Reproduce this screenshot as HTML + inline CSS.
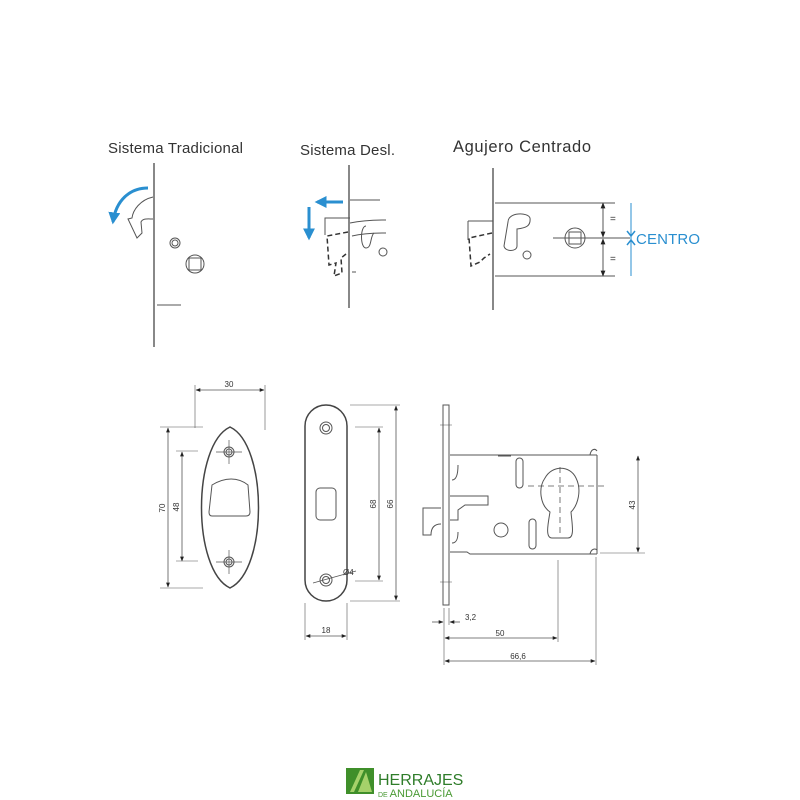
<!DOCTYPE html>
<html><head><meta charset="utf-8"><style>
html,body{margin:0;padding:0;background:#fff;width:800px;height:800px;overflow:hidden}
svg{display:block}
text{font-family:"Liberation Sans",sans-serif}
</style></head><body>
<svg width="800" height="800" viewBox="0 0 800 800" xmlns="http://www.w3.org/2000/svg">
<defs>
<marker id="ab" viewBox="0 0 10 10" refX="9" refY="5" markerWidth="6" markerHeight="6" orient="auto-start-reverse"><path d="M0,1L10,5L0,9z" fill="#222"/></marker>
<marker id="bl" viewBox="0 0 10 10" refX="8" refY="5" markerWidth="4" markerHeight="4" orient="auto"><path d="M0,0L10,5L0,10z" fill="#2a8fd0"/></marker>
</defs>
<g fill="none" stroke="#555" stroke-width="1">
<!-- Panel 1 -->
<line x1="154" y1="163" x2="154" y2="347" stroke-width="2" stroke="#888"/>
<line x1="157" y1="305" x2="181" y2="305"/>
<path d="M153,197 C140,200 133,210 132,218 L128,219 L137,238 L142,233 L141,222 C143,218 148,219 153,219"/>
<circle cx="175" cy="243" r="5"/><circle cx="175" cy="243" r="3"/>
<circle cx="195" cy="264" r="9"/><rect x="189" y="258" width="12" height="12"/>
<path d="M148,188 C130,188 116,200 113,222" stroke="#2a8fd0" stroke-width="3" marker-end="url(#bl)"/>
<!-- Panel 2 -->
<line x1="349" y1="165" x2="349" y2="308" stroke-width="2" stroke="#888"/>
<line x1="350" y1="200" x2="380" y2="200"/>
<line x1="352" y1="272" x2="356" y2="272"/>
<path d="M350,218 L325,218 L325,235"/>
<path d="M350,223 C365,220 380,220 386,220"/>
<path d="M352,236 C365,233 380,233 386,233"/>
<path d="M366,226 C360,226 360,248 366,248 C372,248 370,236 374,233"/>
<circle cx="383" cy="252" r="4"/>
<path d="M348,232 L327,236 L329,265 L336,263 L334,276 L342,273 L341,258 L346,254" stroke-dasharray="5,3" stroke="#333" stroke-width="1.5"/>
<line x1="343" y1="202" x2="317" y2="202" stroke="#2a8fd0" stroke-width="3" marker-end="url(#bl)"/>
<line x1="309" y1="207" x2="309" y2="238" stroke="#2a8fd0" stroke-width="3" marker-end="url(#bl)"/>
<!-- Panel 3 -->
<line x1="493" y1="168" x2="493" y2="310" stroke-width="2" stroke="#888"/>
<path d="M495,203 L615,203 M495,276 L615,276"/>
<line x1="468" y1="221" x2="493" y2="221"/>
<line x1="468" y1="221" x2="468" y2="240"/>
<path d="M492,233 L469,238 L471,266 L480,262 L484,258 L490,254" stroke-dasharray="5,3" stroke="#333" stroke-width="1.5"/>
<path d="M508,222 C508,212 528,212 530,218 C531,226 526,228 517,229 L517,246 C517,252 505,252 504,246 Z"/>
<circle cx="527" cy="255" r="4"/>
<circle cx="575" cy="238" r="10"/><rect x="569" y="232" width="12" height="12"/>
<line x1="553" y1="238" x2="630" y2="238"/>
<line x1="603" y1="203" x2="603" y2="237" marker-start="url(#ab)" marker-end="url(#ab)"/>
<line x1="603" y1="239" x2="603" y2="276" marker-start="url(#ab)" marker-end="url(#ab)"/>
<line x1="631" y1="203" x2="631" y2="276" stroke="#2a8fd0"/>
<path d="M627,231 L631,236 L635,231 M627,245 L631,240 L635,245" stroke="#2a8fd0" stroke-width="1.5"/>
<text x="610" y="222" font-size="10" fill="#333" stroke="none">=</text>
<text x="610" y="262" font-size="10" fill="#333" stroke="none">=</text>
<!-- Escutcheon -->
<path d="M230,427 C192,445 192,570 230,588 C268,570 268,445 230,427 Z" stroke="#444" stroke-width="1.5"/>
<circle cx="229" cy="452" r="5"/><circle cx="229" cy="452" r="3"/>
<circle cx="229" cy="562" r="5"/><circle cx="229" cy="562" r="3"/>
<path d="M216,452 H242 M229,440 V464 M216,562 H242 M229,550 V574" stroke-width="0.7"/>
<path d="M212,485 C225,477 238,477 248,485 L250,512 C250,515 248,516 246,516 L212,516 C210,516 209,515 209,512 Z"/>
<line x1="195" y1="428" x2="195" y2="385" stroke-width="0.6"/><line x1="265" y1="430" x2="265" y2="385" stroke-width="0.6"/>
<line x1="196" y1="390" x2="264" y2="390" stroke-width="0.8" marker-start="url(#ab)" marker-end="url(#ab)"/>
<line x1="168" y1="428" x2="168" y2="587" stroke-width="0.8" marker-start="url(#ab)" marker-end="url(#ab)"/>
<line x1="160" y1="427" x2="203" y2="427" stroke-width="0.6"/><line x1="160" y1="588" x2="203" y2="588" stroke-width="0.6"/>
<line x1="182" y1="452" x2="182" y2="561" stroke-width="0.8" marker-start="url(#ab)" marker-end="url(#ab)"/>
<line x1="176" y1="451" x2="198" y2="451" stroke-width="0.6"/><line x1="176" y1="561" x2="198" y2="561" stroke-width="0.6"/>
<!-- Faceplate -->
<rect x="305" y="405" width="42" height="196" rx="21" stroke="#444" stroke-width="1.5"/>
<circle cx="326" cy="428" r="6"/><circle cx="326" cy="428" r="3.5"/>
<circle cx="326" cy="580" r="6"/><circle cx="326" cy="580" r="3.5"/>
<rect x="316" y="488" width="20" height="32" rx="4"/>
<line x1="313" y1="583" x2="356" y2="571" stroke-width="0.8"/>
<line x1="350" y1="405" x2="400" y2="405" stroke-width="0.6"/><line x1="350" y1="601" x2="400" y2="601" stroke-width="0.6"/>
<line x1="396" y1="406" x2="396" y2="600" stroke-width="0.8" marker-start="url(#ab)" marker-end="url(#ab)"/>
<line x1="355" y1="427" x2="383" y2="427" stroke-width="0.6"/><line x1="355" y1="581" x2="383" y2="581" stroke-width="0.6"/>
<line x1="379" y1="428" x2="379" y2="580" stroke-width="0.8" marker-start="url(#ab)" marker-end="url(#ab)"/>
<line x1="305" y1="603" x2="305" y2="640" stroke-width="0.6"/><line x1="347" y1="603" x2="347" y2="640" stroke-width="0.6"/>
<line x1="306" y1="636" x2="346" y2="636" stroke-width="0.8" marker-start="url(#ab)" marker-end="url(#ab)"/>
<!-- Lock body -->
<rect x="443" y="405" width="6" height="200"/>
<path d="M440,425 L452,425 M440,582 L452,582" stroke-width="0.6"/>
<path d="M450,455 L597,455 M597,455 L597,554 M597,554 L470,554 L467,552 L450,552"/>
<path d="M590,455 C591,449 595,448 597,451 M590,554 C591,549 595,548 597,550"/>
<path d="M498,456 L511,456"/>
<rect x="516" y="458" width="7" height="30" rx="3.5"/>
<rect x="529" y="519" width="7" height="30" rx="3.5"/>
<circle cx="501" cy="530" r="7"/>
<path d="M552,538 C545,538 548,524 550,512 C540,505 538,488 545,478 C552,465 570,465 576,478 C582,490 578,505 571,512 C572,524 575,538 568,538 Z"/>
<line x1="528" y1="486" x2="605" y2="486" stroke-dasharray="6,4" stroke-width="0.8"/>
<line x1="560" y1="467" x2="560" y2="535" stroke-dasharray="6,4" stroke-width="0.8"/>
<path d="M450,496 L488,496 L488,505 L465,505 L458,510 L458,520 L450,520"/>
<path d="M441,508 L423,508 L423,535 L431,535 C431,527 435,524 441,524"/>
<path d="M452,480 C456,480 458,475 458,465 M452,543 C456,543 458,540 458,532"/>
<line x1="600" y1="553" x2="645" y2="553" stroke-width="0.6"/>
<line x1="638" y1="456" x2="638" y2="552" stroke-width="0.8" marker-start="url(#ab)" marker-end="url(#ab)"/>
<line x1="444" y1="608" x2="444" y2="665" stroke-width="0.6"/><line x1="449" y1="608" x2="449" y2="625" stroke-width="0.6"/>
<line x1="558" y1="560" x2="558" y2="642" stroke-width="0.6"/><line x1="596" y1="557" x2="596" y2="665" stroke-width="0.6"/>
<line x1="432" y1="622" x2="443" y2="622" stroke-width="0.8" marker-end="url(#ab)"/>
<line x1="460" y1="622" x2="450" y2="622" stroke-width="0.8" marker-end="url(#ab)"/>
<line x1="445" y1="638" x2="557" y2="638" stroke-width="0.8" marker-start="url(#ab)" marker-end="url(#ab)"/>
<line x1="445" y1="661" x2="595" y2="661" stroke-width="0.8" marker-start="url(#ab)" marker-end="url(#ab)"/>
</g>
<g fill="#333">
<text x="108" y="153" font-size="15" textLength="135">Sistema Tradicional</text>
<text x="300" y="155" font-size="15" textLength="95">Sistema Desl.</text>
<text x="453" y="152" font-size="16.5" textLength="138">Agujero Centrado</text>
<text x="636" y="244" font-size="15" fill="#2a8fd0" textLength="64">CENTRO</text>
<text x="229" y="387" font-size="8" text-anchor="middle">30</text>
<text x="165" y="508" font-size="8" transform="rotate(-90 165 508)" text-anchor="middle">70</text>
<text x="179" y="507" font-size="8" transform="rotate(-90 179 507)" text-anchor="middle">48</text>
<text x="376" y="504" font-size="8" transform="rotate(-90 376 504)" text-anchor="middle">68</text>
<text x="393" y="504" font-size="8" transform="rotate(-90 393 504)" text-anchor="middle">66</text>
<text x="343" y="575" font-size="8">Ø4</text>
<text x="326" y="633" font-size="8" text-anchor="middle">18</text>
<text x="635" y="505" font-size="8" transform="rotate(-90 635 505)" text-anchor="middle">43</text>
<text x="465" y="620" font-size="8">3,2</text>
<text x="500" y="636" font-size="8" text-anchor="middle">50</text>
<text x="518" y="659" font-size="8" text-anchor="middle">66,6</text>
</g>
<!-- logo -->
<rect x="346" y="768" width="28" height="26" fill="#3f8f2a"/>
<path d="M350,792 L360,770 L364,770 L354,792 Z M358,792 L366,772 L372,792 Z" fill="#a5d16a"/>
<text x="378" y="785" font-size="16" fill="#2f7d2a">HERRAJES</text>
<text x="378" y="797" font-size="7" fill="#4a9a34">DE <tspan font-size="11">ANDALUCÍA</tspan></text>
</svg>
</body></html>
